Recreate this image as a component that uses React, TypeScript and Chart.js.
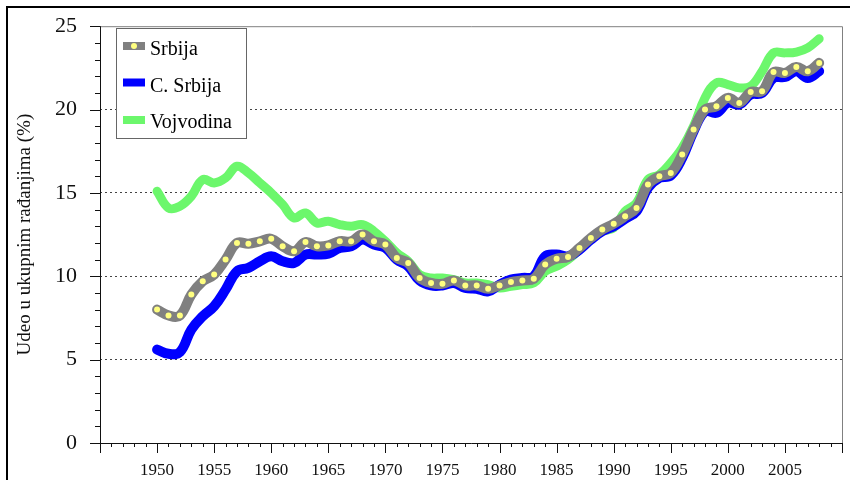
import React, { useEffect, useRef } from "react";
import { Chart, registerables } from "chart.js";

Chart.register(...registerables);

const years = [
  1950, 1951, 1952, 1953, 1954, 1955, 1956, 1957, 1958, 1959,
  1960, 1961, 1962, 1963, 1964, 1965, 1966, 1967, 1968, 1969,
  1970, 1971, 1972, 1973, 1974, 1975, 1976, 1977, 1978, 1979,
  1980, 1981, 1982, 1983, 1984, 1985, 1986, 1987, 1988, 1989,
  1990, 1991, 1992, 1993, 1994, 1995, 1996, 1997, 1998, 1999,
  2000, 2001, 2002, 2003, 2004, 2005, 2006, 2007, 2008,
];

const srbija = [
  8.0, 7.65, 7.65, 8.9, 9.7, 10.1, 11.0, 12.0, 11.95, 12.1,
  12.25, 11.8, 11.5, 12.05, 11.8, 11.85, 12.1, 12.1, 12.5, 12.1,
  11.9, 11.1, 10.8, 9.9, 9.6, 9.55, 9.75, 9.45, 9.45, 9.25,
  9.45, 9.65, 9.75, 9.85, 10.7, 11.05, 11.15, 11.7, 12.3, 12.8,
  13.15, 13.6, 14.1, 15.5, 16.0, 16.2, 17.3, 18.8, 20.0, 20.2,
  20.7, 20.4, 21.05, 21.1, 22.25, 22.2, 22.55, 22.3, 22.8,
];

const centralnaSrbija = [
  5.6, 5.35, 5.45, 6.8, 7.6, 8.2, 9.2, 10.3, 10.5, 10.9,
  11.2, 10.9, 10.8, 11.3, 11.3, 11.35, 11.7, 11.8, 12.2, 11.9,
  11.7, 11.0, 10.6, 9.75, 9.45, 9.45, 9.6, 9.3, 9.25, 9.1,
  9.5, 9.8, 9.9, 10.0, 11.2, 11.3, 11.2, 11.6, 12.2, 12.7,
  13.0, 13.45, 13.9, 15.3, 15.9, 16.05, 17.1, 18.7, 19.9, 19.8,
  20.4, 20.3, 20.9, 21.0, 21.9, 21.95, 22.3, 21.9, 22.3,
];

const vojvodina = [
  15.1, 14.1, 14.2, 14.8, 15.8, 15.6, 15.9, 16.6, 16.2, 15.6,
  15.0, 14.3, 13.5, 13.8, 13.2, 13.3, 13.1, 13.0, 13.1, 12.7,
  12.1, 11.4, 10.9, 10.1, 9.9, 9.9, 9.8, 9.6, 9.6, 9.5,
  9.3, 9.4, 9.5, 9.6, 10.3, 10.6, 11.0, 11.6, 12.2, 12.7,
  12.9, 13.9, 14.4, 15.8, 16.1, 16.8, 17.7, 19.0, 20.7, 21.6,
  21.5, 21.3, 21.4, 22.3, 23.4, 23.4, 23.45, 23.7, 24.25,
];

const seriesNames = ["Srbija", "C. Srbija", "Vojvodina"];
const yTitle = "Udeo u ukupnim rađanjima (%)";

const SERIF = '"Liberation Serif", "Times New Roman", serif';
const GRAY = "#808080";
const YELLOW = "#FFFF80";
const BLUE = "#0000FF";
const GREEN = "#6CF76C";

const decorPlugin = {
  id: "decor",
  beforeDraw(chart: any) {
    const ctx = chart.ctx;
    ctx.save();
    ctx.fillStyle = "#ffffff";
    ctx.fillRect(0, 0, chart.width, chart.height);
    ctx.restore();
  },
  afterDraw(chart: any) {
    const { ctx, chartArea: a, scales } = chart;
    const xs = scales.x;
    const ys = scales.y;
    ctx.save();
    // outer frame
    ctx.strokeStyle = "#000";
    ctx.lineWidth = 2;
    ctx.beginPath();
    ctx.moveTo(7, chart.height);
    ctx.lineTo(7, 7);
    ctx.lineTo(chart.width, 7);
    ctx.stroke();

    // plot box
    ctx.lineWidth = 1;
    ctx.strokeStyle = GRAY;
    ctx.beginPath();
    ctx.moveTo(a.left, a.top + 0.5);
    ctx.lineTo(a.right + 0.5, a.top + 0.5);
    ctx.lineTo(a.right + 0.5, a.bottom);
    ctx.stroke();
    ctx.strokeStyle = "#111";
    ctx.beginPath();
    ctx.moveTo(a.left + 0.5, a.top);
    ctx.lineTo(a.left + 0.5, a.bottom + 0.5);
    ctx.lineTo(a.right + 1, a.bottom + 0.5);
    ctx.stroke();

    // y ticks
    ctx.beginPath();
    for (const t of ys.ticks) {
      const py = Math.round(ys.getPixelForValue(t.value)) + 0.5;
      const len = t.value % 5 === 0 ? 10 : 5;
      ctx.moveTo(a.left - len, py);
      ctx.lineTo(a.left, py);
    }
    // x ticks
    for (const t of xs.ticks) {
      const px = Math.round(xs.getPixelForValue(t.value)) + 0.5;
      const len = t.value % 5 === 0 ? 10 : 4;
      ctx.moveTo(px, a.bottom);
      ctx.lineTo(px, a.bottom + len);
    }
    ctx.stroke();

    // legend
    const bx = 116.5, by = 28.5, bw = 130, bh = 110;
    ctx.fillStyle = "#fff";
    ctx.fillRect(bx, by, bw, bh);
    ctx.strokeStyle = "#666";
    ctx.lineWidth = 1;
    ctx.strokeRect(bx, by, bw, bh);

    const swX = 123, swW = 22;
    const rows = [
      { color: GRAY, cy: 46, base: 55, dot: true },
      { color: BLUE, cy: 82.5, base: 92, dot: false },
      { color: GREEN, cy: 120, base: 128, dot: false },
    ];
    ctx.font = `20px ${SERIF}`;
    ctx.textBaseline = "alphabetic";
    ctx.textAlign = "left";
    rows.forEach((r, i) => {
      ctx.fillStyle = r.color;
      ctx.fillRect(swX, r.cy - 4, swW, 8);
      if (r.dot) {
        ctx.fillStyle = YELLOW;
        ctx.beginPath();
        ctx.arc(swX + swW / 2, r.cy, 3, 0, Math.PI * 2);
        ctx.fill();
      }
      ctx.fillStyle = "#000";
      ctx.fillText(seriesNames[i], 150, r.base);
    });
    ctx.restore();
  },
};

export default function App() {
  const ref = useRef<HTMLCanvasElement | null>(null);

  useEffect(() => {
    if (!ref.current) return;
    const mk = (arr: number[]) => years.map((y, i) => ({ x: y, y: arr[i] }));
    const chart = new Chart(ref.current, {
      type: "line",
      data: {
        datasets: [
          {
            label: seriesNames[0],
            data: mk(srbija),
            borderColor: GRAY,
            borderWidth: 10,
            pointRadius: 3,
            pointBackgroundColor: YELLOW,
            pointBorderWidth: 0,
            tension: 0.4,
            borderCapStyle: "round",
            borderJoinStyle: "round",
          },
          {
            label: seriesNames[1],
            data: mk(centralnaSrbija),
            borderColor: BLUE,
            borderWidth: 10,
            pointRadius: 0,
            tension: 0.4,
            borderCapStyle: "round",
            borderJoinStyle: "round",
          },
          {
            label: seriesNames[2],
            data: mk(vojvodina),
            borderColor: GREEN,
            borderWidth: 9,
            pointRadius: 0,
            tension: 0.4,
            borderCapStyle: "round",
            borderJoinStyle: "round",
          },
        ],
      },
      options: {
        animation: false,
        responsive: false,
        maintainAspectRatio: false,
        devicePixelRatio: 1,
        layout: { padding: { top: 24, right: 8, left: 0, bottom: 0 } },
        plugins: {
          legend: { display: false },
          tooltip: { enabled: false },
        },
        scales: {
          x: {
            type: "linear",
            min: 1945,
            max: 2010,
            border: { display: false },
            grid: {
              drawOnChartArea: false,
              tickLength: 10,
              tickColor: "transparent",
            },
            ticks: {
              stepSize: 1,
              autoSkip: false,
              maxRotation: 0,
              padding: 7,
              color: "#111",
              font: { family: SERIF, size: 17 },
              callback: (v: any) =>
                v % 5 === 0 && v >= 1950 && v <= 2005 ? String(v) : "",
            },
            afterFit: (s: any) => {
              s.height = 37;
            },
          },
          y: {
            type: "linear",
            min: 0,
            max: 25,
            border: { display: false },
            grid: {
              tickLength: 10,
              tickColor: "transparent",
              color: (c: any) => {
                const v = c.tick ? c.tick.value : -1;
                return v % 5 === 0 && v > 0 && v < 25 ? "#444" : "transparent";
              },
              lineWidth: 1,
            },
            ticks: {
              stepSize: 1,
              autoSkip: false,
              padding: 13,
              color: "#111",
              font: { family: SERIF, size: 22 },
              callback: (v: any) => (v % 5 === 0 ? String(v) : ""),
            },
            title: {
              display: true,
              text: yTitle,
              color: "#111",
              font: { family: SERIF, size: 19 },
              padding: { top: 14, bottom: 0 },
            },
            afterFit: (s: any) => {
              s.width = 100;
            },
          },
        },
      } as any,
      plugins: [decorPlugin],
    });
    // dashed grid
    (chart.options.scales as any).y.grid.borderDash = [2, 3];
    (chart.options.scales as any).y.border = { display: false, dash: [2, 3] };
    chart.update();
    return () => chart.destroy();
  }, []);

  return (
    <div style={{ position: "fixed", left: 0, top: 0, width: 850, height: 480, background: "#fff" }}>
      <canvas ref={ref} width={850} height={480} style={{ display: "block" }} />
    </div>
  );
}
